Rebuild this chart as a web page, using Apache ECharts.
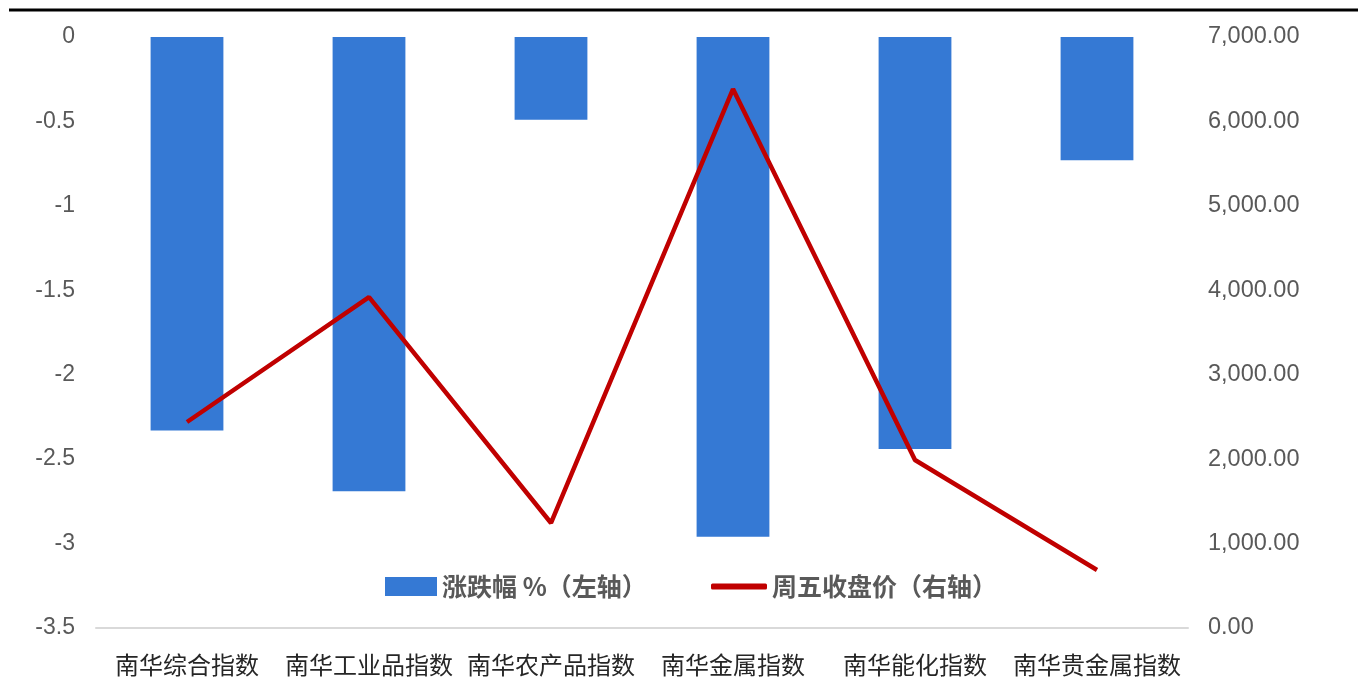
<!DOCTYPE html>
<html><head><meta charset="utf-8">
<script src="https://cdn.jsdelivr.net/npm/echarts@6/dist/echarts.min.js"></script>
<style>html,body{margin:0;padding:0;background:#fff;}#c{width:1358px;height:690px;}</style>
</head><body><div id="c"></div>
<script>
const categories = ['南华综合指数','南华工业品指数','南华农产品指数','南华金属指数','南华能化指数','南华贵金属指数'];
const changePct = [-2.33, -2.69, -0.49, -2.96, -2.44, -0.73];
const closePrice = [2440, 3920, 1244, 6384, 1990, 687];
const leftTicks = {min: -3.5, max: 0, interval: 0.5};
const rightTicks = {min: 0, max: 7000, interval: 1000};

const chart = echarts.init(document.getElementById('c'));
const numFont = "'Liberation Sans', Arial, sans-serif";
const cjkFont = "'Noto Sans CJK SC', sans-serif";
const legendText = {fontFamily: cjkFont, fontSize: 25, fontWeight: 'bold', color: '#595959'};
chart.setOption({
  animation: false,
  backgroundColor: '#fff',
  graphic: [{type:'line', shape:{x1:9,y1:10,x2:1358,y2:10}, style:{stroke:'#000', lineWidth:3}}],
  grid: {left: 96, right: 170, top: 37, bottom: 62},
  legend: [{
    left: 385, top: 574, padding: 0, itemWidth: 52, itemHeight: 19, itemGap: 6,
    textStyle: legendText,
    data: [{name:'涨跌幅 %（左轴）', icon:'rect'}]
  }, {
    left: 711, top: 574, padding: 0, itemWidth: 56, itemHeight: 6, itemGap: 4,
    textStyle: legendText,
    data: [{name:'周五收盘价（右轴）', icon:'roundRect'}]
  }],
  xAxis: {
    type: 'category', data: categories,
    axisLine: {onZero: false, lineStyle: {color: '#d9d9d9', width: 2}},
    axisTick: {show: false},
    axisLabel: {fontFamily: cjkFont, fontSize: 24, color: '#262626', margin: 25, interval: 0}
  },
  yAxis: [{
    type: 'value', min: leftTicks.min, max: leftTicks.max, interval: leftTicks.interval,
    splitLine: {show: false}, axisLine: {show: false}, axisTick: {show: false},
    axisLabel: {fontFamily: numFont, fontSize: 23, color: '#595959', margin: 21}
  }, {
    type: 'value', min: rightTicks.min, max: rightTicks.max, interval: rightTicks.interval,
    splitLine: {show: false}, axisLine: {show: false}, axisTick: {show: false},
    axisLabel: {fontFamily: numFont, fontSize: 23.5, color: '#595959', margin: 20,
      formatter: v => v.toLocaleString('en-US', {minimumFractionDigits: 2, maximumFractionDigits: 2})}
  }],
  series: [{
    name: '涨跌幅 %（左轴）', type: 'bar', data: changePct, yAxisIndex: 0,
    barWidth: '40%', itemStyle: {color: '#3579d4'}
  }, {
    name: '周五收盘价（右轴）', type: 'line', data: closePrice, yAxisIndex: 1,
    symbol: 'none', lineStyle: {color: '#c00000', width: 4.5}, itemStyle: {color: '#c00000'}
  }]
});
</script></body></html>
